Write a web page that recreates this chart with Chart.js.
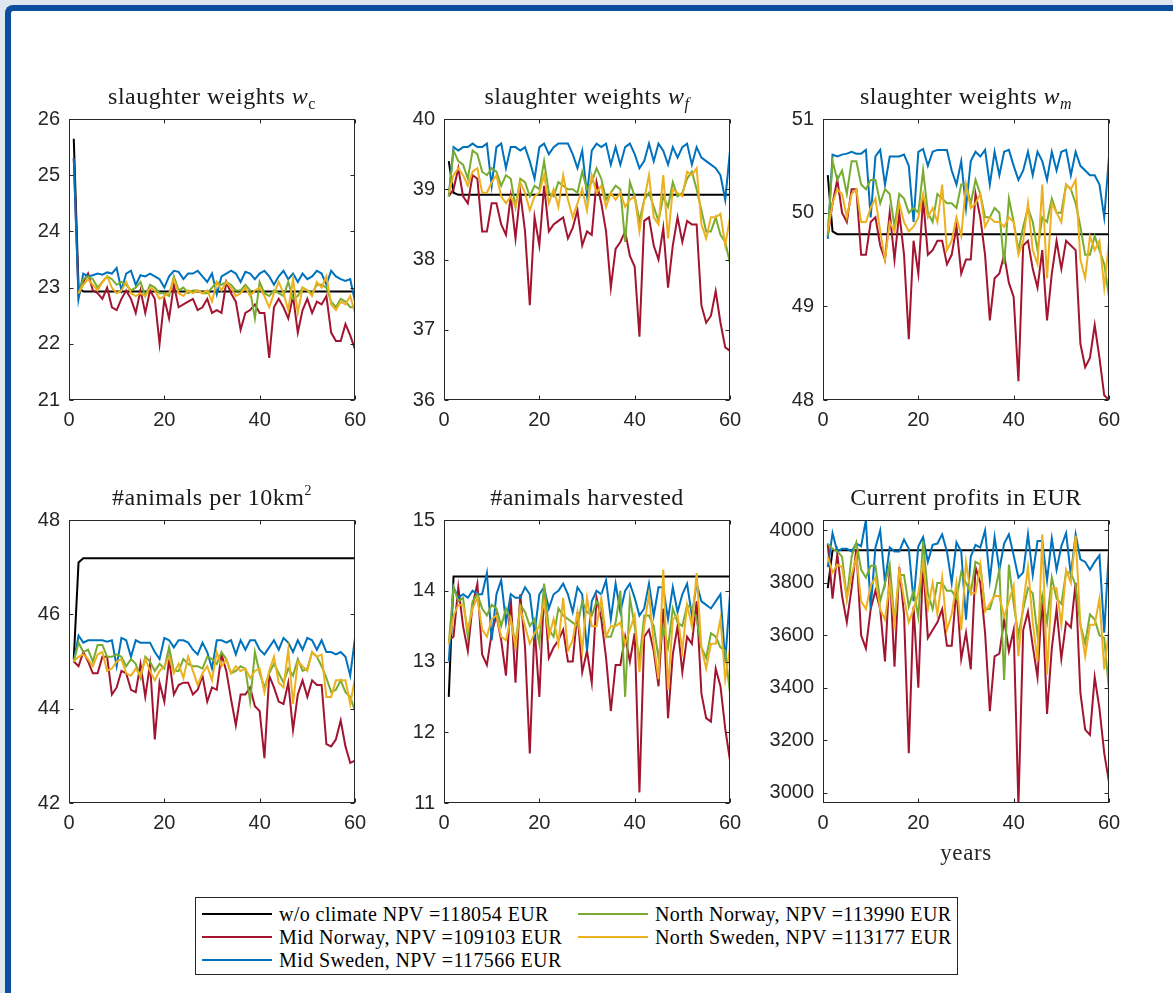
<!DOCTYPE html>
<html>
<head>
<meta charset="utf-8">
<script src="https://cdn.jsdelivr.net/npm/chart.js@4.4.1/dist/chart.umd.min.js"></script>
<style>
  html, body { margin: 0; padding: 0; }
  body { width: 1173px; height: 993px; background: #dfe6ef; position: relative; overflow: hidden; }
  #frame { position: absolute; left: 5px; top: 5px; width: 1200px; height: 1020px; background: #fff;
    border-top: 6px solid #0c4d9e; border-left: 6px solid #0c4d9e; border-top-left-radius: 8px; }
  .plot { position: absolute; }
  .ttl { position: absolute; text-align: center; font-family: "Liberation Serif", serif; font-size: 24px;
    letter-spacing: 0.5px; line-height: 26px; color: #1a1a1a; white-space: nowrap; }
  .ttl sub { font-size: 16px; vertical-align: -5px; line-height: 0; }
  .ttl sup { font-size: 14px; vertical-align: 10px; line-height: 0; }
  #xlab { position: absolute; left: 823px; width: 286px; top: 841px; text-align: center;
    font-family: "Liberation Serif", serif; font-size: 23px; letter-spacing: 0.6px; line-height: 24px; color: #262626; }
  #legend { position: absolute; left: 195px; top: 897px; width: 763px; height: 78px; box-sizing: border-box;
    border: 1px solid #262626; background: #fff; }
  .lg { position: absolute; height: 22px; font-family: "Liberation Serif", serif; font-size: 20px;
    letter-spacing: 0.4px; line-height: 22px; color: #000; white-space: nowrap; }
  .lg i { position: absolute; left: 0; top: 10px; width: 70px; height: 2px; }
  .lg span { position: absolute; left: 77px; top: 0; }
</style>
</head>
<body>
<div id="frame"></div>
<div id="plots"></div>
<div class="ttl" style="left:69px;width:286px;top:83px">slaughter weights <i>w</i><sub>c</sub></div>
<div class="ttl" style="left:444px;width:286px;top:83px">slaughter weights <i>w</i><sub><i>f</i></sub></div>
<div class="ttl" style="left:823px;width:286px;top:83px">slaughter weights <i>w</i><sub><i>m</i></sub></div>
<div class="ttl" style="left:69px;width:286px;top:484px">#animals per 10km<sup>2</sup></div>
<div class="ttl" style="left:444px;width:286px;top:484px">#animals harvested</div>
<div class="ttl" style="left:823px;width:286px;top:484px">Current profits in EUR</div>
<div id="xlab">years</div>
<div id="legend"></div>
<script>
// x values: years 1..60
const years = Array.from({ length: 60 }, (_, i) => i + 1);

const seriesNames = [
  'w/o climate NPV =118054 EUR',
  'Mid Norway, NPV =109103 EUR',
  'Mid Sweden, NPV =117566 EUR',
  'North Norway, NPV =113990 EUR',
  'North Sweden, NPV =113177 EUR'
];
const seriesColors = ['#000000', '#A2142F', '#0072BD', '#77AC30', '#EDB120'];

// slaughter weights w_c
const wcBase = [25.65, 23.0, 22.93, 22.93, 22.93, 22.93, 22.93, 22.93, 22.93, 22.93,
  22.93, 22.93, 22.93, 22.93, 22.93, 22.93, 22.93, 22.93, 22.93, 22.93,
  22.93, 22.93, 22.93, 22.93, 22.93, 22.93, 22.93, 22.93, 22.93, 22.93,
  22.93, 22.93, 22.93, 22.93, 22.93, 22.93, 22.93, 22.93, 22.93, 22.93,
  22.93, 22.93, 22.93, 22.93, 22.93, 22.93, 22.93, 22.93, 22.93, 22.93,
  22.93, 22.93, 22.93, 22.93, 22.93, 22.93, 22.93, 22.93, 22.93, 22.93];
const wcMidNor = [25.3, 22.85, 23.1, 23.25, 22.95, 22.9, 22.8, 23.0, 22.65, 22.6,
  22.8, 22.95, 22.8, 22.55, 22.95, 22.55, 22.95, 22.8, 22.0, 22.8,
  22.45, 23.05, 22.65, 22.7, 22.75, 22.8, 22.6, 22.65, 22.8, 22.55,
  22.6, 22.55, 23.1, 22.9, 22.75, 22.25, 22.55, 22.6, 22.7, 22.55,
  22.55, 21.75, 22.65, 22.8, 22.65, 22.45, 22.85, 22.2, 22.6, 22.8,
  22.55, 22.75, 22.7, 22.85, 22.2, 22.05, 22.05, 22.35, 22.15, 21.9];
const wcMidSwe = [25.3, 22.8, 23.25, 23.2, 23.22, 23.25, 23.23, 23.27, 23.25, 23.35,
  22.95, 23.25, 23.3, 23.05, 23.22, 23.2, 23.25, 23.2, 23.15, 23.0,
  23.2, 23.3, 23.28, 23.15, 23.25, 23.25, 23.3, 23.2, 23.1, 23.25,
  22.88, 23.2, 23.25, 23.3, 23.25, 23.1, 23.28, 23.25, 23.15, 23.25,
  23.3, 23.2, 23.05, 23.2, 23.3, 23.15, 23.25, 23.1, 23.25, 23.15,
  23.2, 23.3, 23.25, 23.05, 23.3, 23.2, 23.15, 23.12, 23.15, 22.75];
const wcNorthNor = [null, 22.9, 23.15, 23.2, 23.15, 23.0, 23.1, 23.2, 23.15, 23.05,
  23.1, 23.05, 22.95, 23.0, 23.1, 22.85, 23.05, 23.0, 22.9, 22.9,
  22.85, 23.2, 22.95, 23.0, 22.9, 22.95, 22.95, 22.9, 22.9, 23.0,
  23.1, 23.05, 23.1, 23.05, 22.95, 22.95, 23.05, 22.95, 22.45, 23.1,
  22.9, 22.85, 22.95, 22.9, 22.85, 23.1, 22.8, 22.85, 23.0, 22.95,
  22.9, 23.05, 23.05, 23.0, 22.75, 22.65, 22.8, 22.75, 22.65, 22.65];
const wcNorthSwe = [null, 22.9, 23.05, 23.15, 23.05, 22.95, 23.1, 23.2, 23.0, 22.9,
  22.95, 23.1, 22.9, 22.85, 22.9, 22.85, 23.0, 22.95, 22.8, 22.85,
  22.9, 23.15, 22.9, 22.85, 22.95, 22.9, 22.95, 22.9, 22.95, 22.75,
  23.1, 22.95, 23.1, 23.0, 22.85, 22.9, 23.0, 22.85, 22.95, 23.0,
  22.85, 22.65, 22.9, 23.1, 22.9, 22.6, 23.15, 22.55, 23.0, 22.95,
  22.85, 23.1, 23.0, 23.2, 22.7, 22.6, 22.75, 22.7, 22.85, 22.55];

// slaughter weights w_f
const wfBase = [39.4, 38.95, 38.92, 38.92, 38.92, 38.92, 38.92, 38.92, 38.92, 38.92,
  38.92, 38.92, 38.92, 38.92, 38.92, 38.92, 38.92, 38.92, 38.92, 38.92,
  38.92, 38.92, 38.92, 38.92, 38.92, 38.92, 38.92, 38.92, 38.92, 38.92,
  38.92, 38.92, 38.92, 38.92, 38.92, 38.92, 38.92, 38.92, 38.92, 38.92,
  38.92, 38.92, 38.92, 38.92, 38.92, 38.92, 38.92, 38.92, 38.92, 38.92,
  38.92, 38.92, 38.92, 38.92, 38.92, 38.92, 38.92, 38.92, 38.92, 38.92];
const wfMidNor = [38.9, 39.0, 39.3, 38.9, 38.8, 39.2, 39.15, 38.4, 38.4, 38.8,
  38.8, 38.5, 38.35, 38.9, 38.3, 38.95, 38.4, 37.35, 38.6, 38.2,
  39.05, 38.4, 38.5, 38.55, 38.6, 38.3, 38.45, 38.7, 38.2, 38.4,
  38.35, 39.1, 38.8, 38.4, 37.6, 38.15, 38.25, 38.4, 38.05, 37.9,
  36.9, 38.55, 38.6, 38.2, 38.0, 38.45, 37.6, 38.2, 38.6, 38.25,
  38.55, 38.5, 38.5, 37.35, 37.1, 37.2, 37.55, 37.1, 36.75, 36.7];
const wfMidSwe = [38.9, 39.6, 39.55, 39.6, 39.6, 39.65, 39.6, 39.6, 39.65, 39.05,
  39.6, 39.65, 39.3, 39.6, 39.6, 39.55, 39.6, 39.4, 39.15, 39.6,
  39.65, 39.5, 39.6, 39.65, 39.65, 39.65, 39.5, 39.3, 39.55, 38.92,
  39.55, 39.65, 39.6, 39.65, 39.35, 39.6, 39.35, 39.6, 39.65, 39.5,
  39.3, 39.4, 39.65, 39.4, 39.65, 39.55, 39.35, 39.6, 39.45, 39.6,
  39.65, 39.35, 39.6, 39.45, 39.4, 39.35, 39.3, 39.2, 38.85, 39.55];
const wfNorthNor = [38.9, 39.55, 39.4, 39.35, 39.15, 39.55, 39.5, 39.25, 39.2, 39.3,
  39.25, 39.05, 39.2, 39.15, 38.75, 39.15, 39.1, 38.9, 39.05, 39.0,
  39.4, 38.95, 38.9, 39.1, 39.05, 39.0, 39.0, 38.95, 39.25, 39.0,
  39.1, 39.3, 39.15, 38.85, 38.95, 39.05, 39.0, 38.25, 39.1, 38.9,
  38.55, 38.85, 38.95, 38.75, 38.55, 38.9, 38.75, 39.1, 38.9, 38.95,
  39.15, 39.25, 39.0, 38.7, 38.4, 38.4, 38.6, 38.35, 38.25, 37.95];
const wfNorthSwe = [38.95, 39.2, 39.3, 39.2, 39.05, 39.25, 39.3, 38.95, 38.95, 39.1,
  39.2, 38.9, 38.8, 38.9, 38.75, 39.1, 38.95, 38.7, 38.9, 38.95,
  39.2, 38.8, 39.0, 38.75, 39.2, 38.85, 38.6, 38.8, 39.0, 38.7,
  39.2, 38.95, 39.05, 38.75, 38.95, 38.85, 38.95, 38.75, 38.85, 38.9,
  38.4, 38.85, 39.2, 38.6, 38.5, 39.2, 38.3, 39.0, 38.95, 38.9,
  39.25, 39.2, 39.3, 38.5, 38.3, 38.6, 38.6, 38.65, 38.2, 38.6];

// slaughter weights w_m
const wmBase = [50.4, 49.8, 49.77, 49.77, 49.77, 49.77, 49.77, 49.77, 49.77, 49.77,
  49.77, 49.77, 49.77, 49.77, 49.77, 49.77, 49.77, 49.77, 49.77, 49.77,
  49.77, 49.77, 49.77, 49.77, 49.77, 49.77, 49.77, 49.77, 49.77, 49.77,
  49.77, 49.77, 49.77, 49.77, 49.77, 49.77, 49.77, 49.77, 49.77, 49.77,
  49.77, 49.77, 49.77, 49.77, 49.77, 49.77, 49.77, 49.77, 49.77, 49.77,
  49.77, 49.77, 49.77, 49.77, 49.77, 49.77, 49.77, 49.77, 49.77, 49.77];
const wmMidNor = [49.75, 50.1, 50.35, 50.0, 49.9, 50.25, 50.25, 49.55, 49.55, 49.9,
  49.95, 49.65, 49.5, 50.0, 49.5, 50.0, 49.55, 48.65, 49.7, 49.35,
  50.15, 49.55, 49.6, 49.7, 49.7, 49.45, 49.55, 49.85, 49.35, 49.5,
  49.5, 50.2, 49.95, 49.55, 48.85, 49.3, 49.35, 49.55, 49.25, 49.1,
  48.2, 49.65, 49.7, 49.4, 49.2, 49.6, 48.85, 49.35, 49.7, 49.4,
  49.7, 49.65, 49.6, 48.6, 48.35, 48.45, 48.8, 48.45, 48.05, 48.0];
const wmMidSwe = [49.72, 50.62, 50.6, 50.62, 50.63, 50.65, 50.63, 50.63, 50.67, 49.95,
  50.6, 50.67, 50.3, 50.6, 50.6, 50.6, 50.62, 50.5, 49.9, 50.65,
  50.68, 50.5, 50.65, 50.67, 50.67, 50.67, 50.45, 50.3, 50.55, 50.05,
  50.55, 50.65, 50.6, 50.67, 50.3, 50.65, 50.4, 50.65, 50.67, 50.5,
  50.35, 50.45, 50.65, 50.4, 50.65, 50.55, 50.35, 50.65, 50.45, 50.65,
  50.67, 50.4, 50.65, 50.5, 50.45, 50.4, 50.4, 50.3, 49.95, 50.6];
const wmNorthNor = [49.75, 50.55, 50.35, 50.45, 50.2, 50.55, 50.55, 50.3, 50.25, 50.35,
  50.35, 50.1, 50.25, 50.2, 49.85, 50.2, 50.15, 50.0, 50.05, 50.0,
  50.45, 50.0, 49.9, 50.2, 50.15, 50.1, 50.1, 50.05, 50.3, 50.3,
  50.1, 50.35, 50.2, 49.95, 49.95, 50.05, 50.0, 49.45, 50.15, 49.9,
  49.6, 49.85, 50.05, 49.9, 49.6, 49.95, 49.9, 50.15, 50.0, 50.0,
  50.3, 50.25, 50.1, 49.85, 49.55, 49.55, 49.75, 49.6, 49.45, 49.1];
const wmNorthSwe = [49.8, 50.1, 50.25, 50.2, 49.95, 50.2, 50.25, 49.9, 49.9, 50.05,
  50.15, 49.8, 49.5, 49.9, 49.8, 50.1, 49.9, 49.8, 49.85, 49.95,
  50.2, 49.95, 50.05, 49.9, 50.3, 49.6, 49.7, 49.95, 49.75, 50.3,
  50.05, 50.1, 50.2, 49.85, 49.95, 49.9, 49.9, 49.85, 49.95, 49.9,
  49.55, 49.7, 50.1, 49.6, 49.45, 50.3, 49.3, 50.1, 50.0, 49.9,
  50.3, 50.25, 50.35, 49.5, 49.3, 49.75, 49.6, 49.7, 49.2, 49.7];

// #animals per 10km2
const anBase = [45.05, 47.1, 47.19, 47.19, 47.19, 47.19, 47.19, 47.19, 47.19, 47.19,
  47.19, 47.19, 47.19, 47.19, 47.19, 47.19, 47.19, 47.19, 47.19, 47.19,
  47.19, 47.19, 47.19, 47.19, 47.19, 47.19, 47.19, 47.19, 47.19, 47.19,
  47.19, 47.19, 47.19, 47.19, 47.19, 47.19, 47.19, 47.19, 47.19, 47.19,
  47.19, 47.19, 47.19, 47.19, 47.19, 47.19, 47.19, 47.19, 47.19, 47.19,
  47.19, 47.19, 47.19, 47.19, 47.19, 47.19, 47.19, 47.19, 47.19, 47.19];
const anMidNor = [45.0, 44.9, 45.2, 45.0, 44.75, 44.75, 45.1, 45.1, 44.3, 44.45,
  44.8, 44.75, 44.4, 44.35, 44.95, 44.25, 44.95, 43.35, 44.55, 44.15,
  45.05, 44.3, 44.5, 44.55, 44.55, 44.3, 44.4, 44.7, 44.15, 44.45,
  44.4, 45.15, 44.8, 44.2, 43.65, 44.3, 44.3, 44.45, 44.05, 43.95,
  42.95, 44.7, 44.45, 44.15, 44.1, 44.55, 43.55, 44.3, 44.6, 44.25,
  44.6, 44.5, 44.5, 43.25, 43.2, 43.35, 43.75, 43.2, 42.85, 42.9];
const anMidSwe = [45.0, 45.55, 45.4, 45.45, 45.45, 45.45, 45.45, 45.42, 45.45, 44.9,
  45.5, 45.45, 45.1, 45.45, 45.4, 45.4, 45.4, 45.2, 45.05, 45.5,
  45.45, 45.3, 45.45, 45.45, 45.4, 45.25, 45.15, 45.4, 45.2, 44.85,
  45.45, 45.45, 45.4, 45.45, 45.15, 45.45, 45.25, 45.45, 45.45, 45.25,
  45.15, 45.3, 45.45, 45.25, 45.5, 45.4, 45.2, 45.45, 45.25, 45.5,
  45.45, 45.25, 45.45, 45.2, 45.2, 45.15, 45.2, 45.1, 44.7, 45.5];
const anNorthNor = [45.0, 45.4, 45.2, 45.25, 45.0, 45.35, 45.35, 45.1, 45.1, 45.15,
  45.1, 44.9, 45.05, 44.95, 44.65, 45.1, 45.0, 44.8, 44.95, 44.85,
  45.3, 44.8, 44.8, 45.05, 44.95, 44.9, 44.9, 44.85, 45.1, 45.05,
  44.95, 45.2, 45.05, 44.75, 44.8, 44.9, 44.85, 44.15, 45.2, 44.75,
  44.45, 44.75, 44.95, 44.75, 44.55, 44.85, 44.7, 45.05, 44.8, 44.85,
  45.2, 45.1, 44.9, 44.65, 44.35, 44.4, 44.6, 44.35, 44.25, 43.95];
const anNorthSwe = [45.0, 45.1, 45.15, 45.05, 44.9, 45.15, 45.2, 44.8, 44.85, 45.0,
  45.05, 44.75, 44.7, 44.85, 44.7, 45.05, 44.8, 44.6, 44.8, 44.9,
  45.1, 44.75, 44.95, 44.65, 45.1, 44.8, 44.5, 44.75, 44.9, 44.6,
  45.2, 44.9, 45.05, 44.75, 44.9, 44.8, 44.85, 44.65, 44.8, 44.85,
  44.35, 44.8, 45.1, 44.55, 44.45, 45.25, 44.1, 45.0, 44.9, 44.8,
  45.2, 45.1, 45.15, 44.25, 44.25, 44.6, 44.6, 44.6, 44.1, 44.65];

// #animals harvested
const hvBase = [12.5, 14.2, 14.2, 14.2, 14.2, 14.2, 14.2, 14.2, 14.2, 14.2,
  14.2, 14.2, 14.2, 14.2, 14.2, 14.2, 14.2, 14.2, 14.2, 14.2,
  14.2, 14.2, 14.2, 14.2, 14.2, 14.2, 14.2, 14.2, 14.2, 14.2,
  14.2, 14.2, 14.2, 14.2, 14.2, 14.2, 14.2, 14.2, 14.2, 14.2,
  14.2, 14.2, 14.2, 14.2, 14.2, 14.2, 14.2, 14.2, 14.2, 14.2,
  14.2, 14.2, 14.2, 14.2, 14.2, 14.2, 14.2, 14.2, 14.2, 14.2];
const hvMidNor = [13.3, 13.35, 14.05, 13.5, 13.15, 13.8, 14.1, 13.1, 12.95, 13.4,
  13.65, 13.3, 12.8, 13.9, 12.7, 13.95, 13.2, 11.7, 13.5, 12.5,
  14.0, 13.05, 13.2, 13.3, 13.45, 13.0, 13.0, 13.7, 12.85, 13.15,
  12.7, 13.9, 13.6, 13.05, 12.3, 12.95, 12.95, 13.35, 13.0, 13.4,
  11.15, 13.35, 13.45, 13.15, 12.65, 13.75, 12.2, 13.1, 13.5, 12.85,
  13.35, 13.25, 13.85, 12.55, 12.2, 12.15, 12.9, 12.65, 12.05, 11.6];
const hvMidSwe = [13.0, 14.05, 13.9, 13.95, 13.9, 14.0, 13.95, 13.95, 14.25, 13.3,
  13.95, 14.15, 13.55, 13.95, 13.9, 13.9, 14.05, 13.95, 13.4, 13.95,
  14.05, 13.75, 13.95, 14.0, 14.1, 13.95, 13.7, 14.05, 13.95, 13.15,
  13.85, 14.0, 13.95, 14.15, 13.6, 14.1, 13.7, 14.0, 14.1, 13.9,
  13.65, 13.75, 14.1, 13.65, 14.05, 14.05, 13.6, 14.05, 13.7, 13.95,
  14.1, 13.65, 14.1, 13.85, 13.8, 13.75, 13.85, 13.95, 13.0, 13.95];
const hvNorthNor = [13.25, 14.05, 13.85, 13.9, 13.35, 13.85, 13.95, 13.75, 13.65, 13.8,
  13.75, 13.5, 13.75, 13.6, 13.25, 13.8, 13.7, 13.5, 13.6, 13.25,
  14.1, 13.45, 13.35, 13.75, 13.65, 13.6, 13.55, 13.5, 13.85, 13.7,
  13.65, 13.85, 13.75, 13.35, 13.35, 13.55, 14.0, 12.5, 13.9, 13.5,
  13.0, 13.65, 13.65, 13.5, 13.05, 13.5, 13.2, 13.75, 13.55, 13.5,
  13.8, 13.75, 13.6, 13.2, 13.05, 13.4, 13.35, 13.2, 13.15, 12.55];
const hvNorthSwe = [13.25, 13.65, 13.8, 13.8, 13.45, 13.75, 13.9, 13.45, 13.35, 13.6,
  13.65, 13.35, 13.3, 13.6, 13.2, 13.75, 13.5, 13.25, 13.4, 13.5,
  13.85, 13.35, 13.6, 13.25, 13.9, 13.15, 13.3, 13.7, 13.15, 13.9,
  13.5, 13.5, 13.9, 13.35, 13.5, 13.5, 13.55, 13.25, 13.45, 13.65,
  12.85, 13.5, 13.95, 13.25, 12.75, 14.3, 12.6, 13.6, 13.65, 13.15,
  13.8, 13.5, 14.25, 13.2, 12.9, 13.25, 13.25, 13.6, 12.75, 13.2];

// current profits in EUR
const prBase = [3780, 3925, 3925, 3925, 3925, 3925, 3925, 3925, 3925, 3925,
  3925, 3925, 3925, 3925, 3925, 3925, 3925, 3925, 3925, 3925,
  3925, 3925, 3925, 3925, 3925, 3925, 3925, 3925, 3925, 3925,
  3925, 3925, 3925, 3925, 3925, 3925, 3925, 3925, 3925, 3925,
  3925, 3925, 3925, 3925, 3925, 3925, 3925, 3925, 3925, 3925,
  3925, 3925, 3925, 3925, 3925, 3925, 3925, 3925, 3925, 3925];
const prMidNor = [3950, 3740, 3910, 3750, 3650, 3780, 3930, 3600, 3550, 3700,
  3770, 3700, 3500, 3850, 3480, 3860, 3680, 3150, 3710, 3400,
  3880, 3590, 3620, 3650, 3700, 3560, 3560, 3780, 3510, 3610,
  3470, 3860, 3800, 3610, 3310, 3520, 3530, 3660, 3540, 3620,
  2950, 3620, 3690, 3560, 3440, 3750, 3300, 3550, 3700, 3510,
  3650, 3630, 3800, 3380, 3240, 3220, 3440, 3320, 3150, 3040];
const prMidSwe = [3860, 3990, 3920, 3930, 3930, 3920, 3950, 3940, 4040, 3700,
  3935, 4000, 3800, 3935, 3920, 3920, 3965, 3930, 3730, 3940,
  3975, 3880, 3945, 3950, 3985, 3920, 3800, 3955, 3920, 3660,
  3900, 3945, 3935, 4000, 3810, 3975, 3850, 3950, 3985, 3905,
  3820, 3840, 3985, 3830, 3960, 3960, 3810, 3970, 3850, 3940,
  3990, 3830, 3985, 3890, 3880, 3850, 3880, 3905, 3610, 3930];
const prNorthNor = [3950, 3930, 3920, 3900, 3740, 3900, 3955, 3850, 3820, 3865,
  3865, 3730, 3800, 3870, 3650, 3830, 3830, 3710, 3770, 3670,
  3960, 3760, 3700, 3800, 3800, 3770, 3770, 3740, 3840, 3800,
  3760, 3880, 3870, 3700, 3700, 3760, 3850, 3430, 3870, 3720,
  3600, 3700, 3780, 3760, 3600, 3750, 3650, 3820, 3740, 3720,
  3840, 3840, 3790, 3640, 3570, 3680, 3660, 3600, 3590, 3390];
const prNorthSwe = [3900, 3840, 3870, 3860, 3740, 3830, 3900, 3730, 3700, 3790,
  3820, 3700, 3660, 3800, 3650, 3850, 3740, 3650, 3700, 3760,
  3880, 3700, 3800, 3680, 3820, 3620, 3680, 3800, 3620, 3880,
  3760, 3760, 3870, 3690, 3720, 3750, 3750, 3670, 3730, 3790,
  3520, 3720, 3860, 3650, 3500, 3985, 3450, 3780, 3780, 3640,
  3850, 3800, 3980, 3640, 3520, 3640, 3640, 3740, 3470, 3620];

// axis limits per panel: [min, max, step]
const yLimits = [[21, 26, 1], [36, 40, 1], [48, 51, 1], [42, 48, 2], [11, 15, 1], [2960, 4040, 200]];
const xTicksStep = 20;

// panel placement (plot area in page pixels)
const colLeft = [69, 444, 823];
const rowTop = [113, 514];
const rowHeight = [287, 289];
const plotWidth = 286;

const panels = [
  [wcBase, wcMidNor, wcMidSwe, wcNorthNor, wcNorthSwe],
  [wfBase, wfMidNor, wfMidSwe, wfNorthNor, wfNorthSwe],
  [wmBase, wmMidNor, wmMidSwe, wmNorthNor, wmNorthSwe],
  [anBase, anMidNor, anMidSwe, anNorthNor, anNorthSwe],
  [hvBase, hvMidNor, hvMidSwe, hvNorthNor, hvNorthSwe],
  [prBase, prMidNor, prMidSwe, prNorthNor, prNorthSwe]
];

// matlab-style box with inward ticks on all four sides
const boxTicks = {
  id: 'boxTicks',
  afterDatasetsDraw(chart) {
    const { ctx, chartArea: a, scales } = chart;
    const L = Math.round(a.left) + 0.5, T = Math.round(a.top) + 0.5;
    const R = Math.round(a.right) - 0.5, B = Math.round(a.bottom) - 0.5;
    const len = 4;
    ctx.save();
    ctx.strokeStyle = '#262626';
    ctx.lineWidth = 1;
    ctx.strokeRect(L, T, R - L, B - T);
    ctx.beginPath();
    scales.x.ticks.forEach(t => {
      const px = Math.round(scales.x.getPixelForValue(t.value)) + 0.5;
      ctx.moveTo(px, B); ctx.lineTo(px, B - len);
      ctx.moveTo(px, T); ctx.lineTo(px, T + len);
    });
    scales.y.ticks.forEach(t => {
      const py = Math.round(scales.y.getPixelForValue(t.value)) + 0.5;
      ctx.moveTo(L, py); ctx.lineTo(L + len, py);
      ctx.moveTo(R, py); ctx.lineTo(R - len, py);
    });
    ctx.stroke();
    ctx.restore();
  }
};

const tickFont = { family: '"Liberation Sans", Arial, sans-serif', size: 20 };
const plotsDiv = document.getElementById('plots');

panels.forEach((series, p) => {
  const col = p % 3, row = Math.floor(p / 3);
  const L = colLeft[col], T = rowTop[row], H = rowHeight[row], W = plotWidth;
  const canvas = document.createElement('canvas');
  canvas.className = 'plot';
  canvas.width = W + 80;
  canvas.height = H + 55;
  canvas.style.left = (L - 60) + 'px';
  canvas.style.top = (T - 15) + 'px';
  plotsDiv.appendChild(canvas);

  const [yMin, yMax, yStep] = yLimits[p];
  new Chart(canvas.getContext('2d'), {
    type: 'line',
    data: {
      datasets: series.map((vals, s) => ({
        label: seriesNames[s],
        data: years.map((x, i) => ({ x, y: vals[i] })),
        borderColor: seriesColors[s],
        backgroundColor: seriesColors[s],
        borderWidth: 2,
        pointRadius: 0,
        tension: 0,
        spanGaps: false,
        order: 5 - s
      }))
    },
    options: {
      responsive: false,
      animation: false,
      layout: { padding: { top: 15, right: 20, left: 0, bottom: 0 } },
      plugins: { legend: { display: false }, tooltip: { enabled: false } },
      scales: {
        x: {
          type: 'linear', min: 0, max: 60,
          grid: { display: false, drawTicks: false },
          border: { display: false },
          ticks: { stepSize: xTicksStep, color: '#262626', font: tickFont, padding: 8, maxRotation: 0,
            callback: v => String(v) },
          afterFit: s => { s.height = 40; }
        },
        y: {
          min: yMin, max: yMax,
          grid: { display: false, drawTicks: false },
          border: { display: false },
          ticks: { stepSize: yStep, includeBounds: false, color: '#262626', font: tickFont, padding: 9,
            callback: v => String(v) },
          afterFit: s => { s.width = 60; }
        }
      }
    },
    plugins: [boxTicks]
  });
});

// legend (two columns, matlab order down columns)
const legendPos = [[6, 5], [6, 28], [6, 51], [382, 5], [382, 28]];
const legendDiv = document.getElementById('legend');
seriesNames.forEach((name, s) => {
  const item = document.createElement('div');
  item.className = 'lg';
  item.style.left = legendPos[s][0] + 'px';
  item.style.top = legendPos[s][1] + 'px';
  item.innerHTML = '<i style="background:' + seriesColors[s] + '"></i><span></span>';
  item.querySelector('span').textContent = name;
  legendDiv.appendChild(item);
});
</script>
</body>
</html>
